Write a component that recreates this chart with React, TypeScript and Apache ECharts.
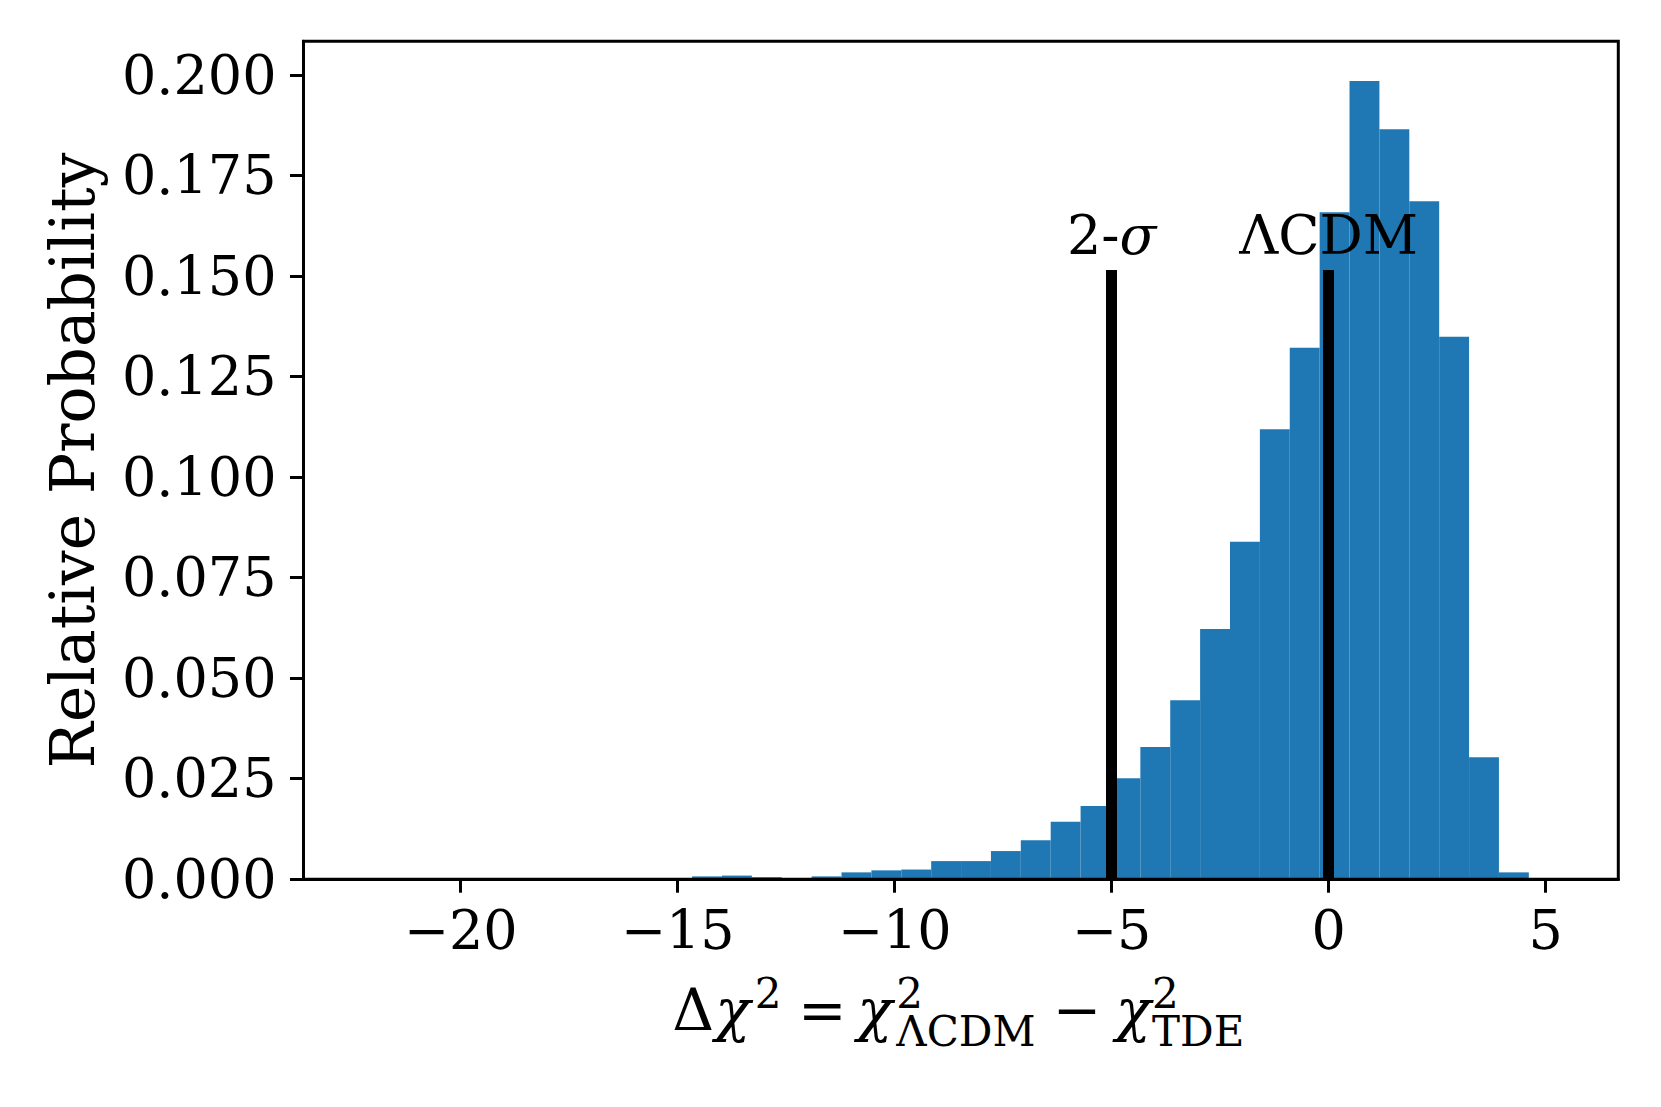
import React, { useEffect, useRef } from "react";
import * as echarts from "echarts";

// Histogram bin edges (41 edges, 40 bins)
const binEdges = [
  -22.24, -21.5515, -20.863, -20.1745, -19.486, -18.7975, -18.109, -17.4205,
  -16.732, -16.0435, -15.355, -14.6665, -13.978, -13.2895, -12.601, -11.9125,
  -11.224, -10.5355, -9.847, -9.1585, -8.47, -7.7815, -7.093, -6.4045,
  -5.716, -5.0275, -4.339, -3.6505, -2.962, -2.2735, -1.585, -0.8965,
  -0.208, 0.4805, 1.169, 1.8575, 2.546, 3.2345, 3.923, 4.6115, 5.3,
];
// Relative probability (density) per bin
const density = [
  0, 0, 0, 0, 0, 0, 0, 0, 0, 0,
  0, 0.0007, 0.0009, 0.0005, 0, 0.0007, 0.0017, 0.0022, 0.0024, 0.0045,
  0.0045, 0.007, 0.0097, 0.0143, 0.0182, 0.0251, 0.0329, 0.0445, 0.0622, 0.0839,
  0.1119, 0.1322, 0.1659, 0.1985, 0.1865, 0.1686, 0.1349, 0.0303, 0.0017, 0,
];
const xTicks = [-20, -15, -10, -5, 0, 5];
const yTicks = [0, 0.025, 0.05, 0.075, 0.1, 0.125, 0.15, 0.175, 0.2];
const refLineX = [-5, 0];
const refLineTop = 0.1515;
const refLineLabels = ["{r|2-}{i|σ}", "{r|ΛCDM}"];
const yAxisTitle = "Relative Probability";

const FONT = "DejaVu Serif";
const FS = 54;
const LFS = 58; // x-label main size
const SUP = 42; // superscript size
const SUB = 42; // subscript size
const SCRIPT_LH = 37.7;

function mathText(
  t: string,
  x: number,
  baseline: number,
  size: number,
  italic = false,
  align: string = "center"
) {
  return {
    type: "text",
    x,
    y: baseline - 0.35 * size,
    style: {
      text: t,
      fontFamily: FONT,
      fontSize: size,
      fontStyle: italic ? "italic" : "normal",
      fill: "#000",
      align,
      verticalAlign: "middle",
    },
  };
}

// superscript stacked over subscript, as one text block
function scripts(sup: string, sub: string, left: number, supBaseline: number) {
  return {
    type: "text",
    x: left,
    y: supBaseline - SCRIPT_LH / 2 - 0.35 * SUP,
    style: {
      text: `{a|${sup}}\n{b|${sub}}`,
      align: "left",
      verticalAlign: "top",
      rich: {
        a: { fontFamily: FONT, fontSize: SUP, lineHeight: SCRIPT_LH, fill: "#000", align: "left" },
        b: { fontFamily: FONT, fontSize: SUB, lineHeight: SCRIPT_LH, fill: "#000", align: "left" },
      },
    },
  };
}

export default function App() {
  const ref = useRef<HTMLDivElement>(null);
  useEffect(() => {
    if (!ref.current) return;
    const chart = echarts.init(ref.current, undefined, { renderer: "svg" });
    const data = density.map((h, i) => [binEdges[i], binEdges[i + 1], h]);
    const option: any = {
      animation: false,
      backgroundColor: "#fff",
      grid: {
        left: 303.5,
        right: 42.7,
        top: 41.3,
        bottom: 227.8,
        show: true,
        borderColor: "#000",
        borderWidth: 3,
        backgroundColor: "transparent",
        z: 10,
      },
      xAxis: {
        type: "value",
        min: -23.62,
        max: 6.673,
        z: 10,
        splitLine: { show: false },
        axisLine: { show: true, onZero: false, lineStyle: { color: "#000", width: 3 } },
        axisTick: {
          show: true,
          length: 13.5,
          customValues: xTicks,
          lineStyle: { color: "#000", width: 3 },
        },
        axisLabel: {
          customValues: xTicks,
          margin: 24,
          fontFamily: FONT,
          fontSize: FS,
          color: "#000",
          formatter: (v: number) => (v < 0 ? "\u2212" + Math.abs(v) : String(v)),
        },
      },
      yAxis: {
        type: "value",
        min: 0,
        max: 0.2084,
        z: 10,
        splitLine: { show: false },
        axisLine: { show: true, onZero: false, lineStyle: { color: "#000", width: 3 } },
        axisTick: {
          show: true,
          length: 13.5,
          customValues: yTicks,
          lineStyle: { color: "#000", width: 3 },
        },
        axisLabel: {
          customValues: yTicks,
          margin: 27,
          fontFamily: FONT,
          fontSize: FS,
          color: "#000",
          padding: [7, 0, 0, 0],
          formatter: (v: number) => v.toFixed(3),
        },
      },
      series: [
        {
          type: "custom",
          data,
          encode: { x: [0, 1], y: 2 },
          renderItem: (params: any, api: any) => {
            const x0 = api.value(0);
            const x1 = api.value(1);
            const h = api.value(2);
            const p0 = api.coord([x0, h]);
            const p1 = api.coord([x1, 0]);
            return {
              type: "rect",
              shape: { x: p0[0], y: p0[1], width: p1[0] - p0[0], height: p1[1] - p0[1] },
              style: { fill: "#1f77b4" },
            };
          },
          markLine: {
            silent: true,
            symbol: ["none", "none"],
            lineStyle: { color: "#000", width: 11, type: "solid" },
            label: {
              show: true,
              position: "end",
              distance: 8,
              formatter: (p: any) => refLineLabels[p.dataIndex],
              rich: {
                r: { fontFamily: FONT, fontSize: FS, color: "#000" },
                i: { fontFamily: FONT, fontSize: FS, color: "#000", fontStyle: "italic" },
              },
            },
            data: refLineX.map((x) => [{ coord: [x, 0] }, { coord: [x, refLineTop] }]),
          },
        },
      ],
      graphic: [
        {
          type: "text",
          x: 73,
          y: 460.5,
          rotation: Math.PI / 2,
          style: {
            text: yAxisTitle,
            fontFamily: FONT,
            fontSize: 61.5,
            fill: "#000",
            align: "center",
            verticalAlign: "middle",
          },
        },
        mathText("Δ", 693.3, 1030, LFS),
        mathText("χ", 750.5, 1030, LFS, true, "right"),
        mathText("2", 768, 1008.3, SUP),
        mathText("=", 822.2, 1030, LFS),
        mathText("χ", 892.5, 1030, LFS, true, "right"),
        scripts("2", "ΛCDM", 896.3, 1008.3),
        mathText("\u2212", 1077, 1030, LFS),
        mathText("χ", 1151, 1030, LFS, true, "right"),
        scripts("2", "TDE", 1152, 1008.3),
      ],
    };
    chart.setOption(option);
    return () => chart.dispose();
  }, []);
  return (
    <div
      ref={ref}
      style={{ position: "absolute", left: 0, top: 0, width: 1661, height: 1107 }}
    />
  );
}
